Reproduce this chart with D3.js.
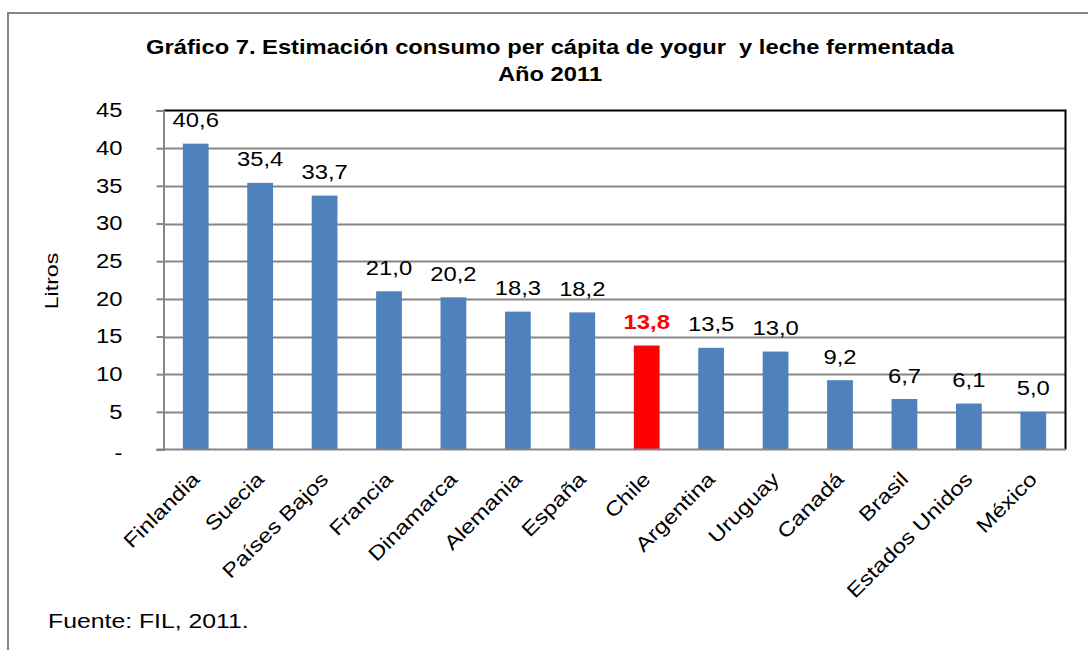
<!DOCTYPE html>
<html>
<head>
<meta charset="utf-8">
<script src="https://cdn.jsdelivr.net/npm/d3@7"></script>
<style>
  body { margin: 0; background: #fff; }
  svg { font-family: "Liberation Sans", Arial, sans-serif; }
</style>
</head>
<body>
<svg width="1088" height="650"></svg>
<script>
const countries = ["Finlandia", "Suecia", "Países Bajos", "Francia", "Dinamarca", "Alemania", "España",
  "Chile", "Argentina", "Uruguay", "Canadá", "Brasil", "Estados Unidos", "México"];
const litros = [40.6, 35.4, 33.7, 21.0, 20.2, 18.3, 18.2, 13.8, 13.5, 13.0, 9.2, 6.7, 6.1, 5.0];
const highlight = "Chile";
const yTicks = [0, 5, 10, 15, 20, 25, 30, 35, 40, 45];

// the original text is drawn wider than Liberation Sans, so stretch it
const wide = 1.19;

const svg = d3.select("svg");

// outer frame
svg.append("rect")
    .attr("x", 8).attr("y", 13)
    .attr("width", 1090).attr("height", 650)
    .attr("fill", "none")
    .attr("stroke", "#868686")
    .attr("stroke-width", 2);

const plot = { left: 163.5, right: 1065.5, top: 110.5, bottom: 449.5 };

const x = d3.scaleBand()
    .domain(countries)
    .range([plot.left, plot.right])
    .paddingInner(0.6)
    .paddingOuter(0.3);

const y = d3.scaleLinear()
    .domain([0, 45])
    .range([plot.bottom, plot.top]);

// gridlines
svg.append("g")
    .selectAll("line")
    .data(yTicks.filter(d => d > 0 && d < 45))
    .join("line")
    .attr("x1", plot.left).attr("x2", plot.right)
    .attr("y1", d => Math.round(y(d)) + 0.5).attr("y2", d => Math.round(y(d)) + 0.5)
    .attr("stroke", "#868686")
    .attr("stroke-width", 2);

// top and right border of plot area
svg.append("path")
    .attr("d", `M${plot.left},${plot.top}H${plot.right}V${plot.bottom}`)
    .attr("fill", "none")
    .attr("stroke", "#000")
    .attr("stroke-width", 2);

// bars
svg.append("g")
    .selectAll("rect")
    .data(countries)
    .join("rect")
    .attr("x", d => x(d))
    .attr("width", x.bandwidth())
    .attr("y", (d, i) => y(litros[i]))
    .attr("height", (d, i) => y(0) - y(litros[i]))
    .attr("fill", d => d === highlight ? "#FF0000" : "#4F81BD");

// value labels
svg.append("g")
    .selectAll("text")
    .data(countries)
    .join("text")
    .attr("transform", (d, i) => `translate(${x(d) + x.bandwidth() / 2},${y(litros[i]) - 16.5}) scale(${wide},1)`)
    .attr("text-anchor", "middle")
    .attr("font-size", 20)
    .attr("font-weight", d => d === highlight ? "bold" : "normal")
    .attr("fill", d => d === highlight ? "#FF0000" : "#000")
    .text((d, i) => d3.format(".1f")(litros[i]).replace(".", ","));

// y axis
const yAxis = svg.append("g")
    .attr("transform", `translate(${plot.left},0)`)
    .call(d3.axisLeft(y).tickValues(yTicks).tickSize(7)
        .tickFormat(d => d === 0 ? "-" : d));
yAxis.select(".domain").attr("stroke", "#868686").attr("stroke-width", 2);
yAxis.selectAll(".tick line").attr("stroke", "#868686").attr("stroke-width", 2);
yAxis.selectAll(".tick text")
    .attr("x", 0)
    .attr("transform", `translate(-41,0) scale(${wide},1)`)
    .attr("font-size", 20)
    .attr("font-family", "Liberation Sans, Arial, sans-serif")
    .attr("fill", "#000");
yAxis.selectAll(".tick").filter(d => d === 0).select("text").attr("dy", "0.5em");

// x axis
const xAxis = svg.append("g")
    .attr("transform", `translate(0,${plot.bottom})`)
    .call(d3.axisBottom(x).tickSize(0).tickPadding(0));
xAxis.select(".domain")
    .attr("d", `M${plot.left - 7},0H${plot.right}`)
    .attr("stroke", "#868686").attr("stroke-width", 2);
xAxis.selectAll(".tick text")
    .attr("font-size", 20)
    .attr("font-family", "Liberation Sans, Arial, sans-serif")
    .attr("fill", "#000")
    .attr("text-anchor", "end")
    .attr("y", 0)
    .attr("dy", 0)
    .attr("transform", "translate(5,31) rotate(-45) scale(1.2,1)");

// titles
svg.append("text")
    .attr("transform", "translate(550,54) scale(1.13,1)")
    .attr("text-anchor", "middle")
    .attr("font-size", 21).attr("font-weight", "bold")
    .style("white-space", "pre")
    .text("Gráfico 7. Estimación consumo per cápita de yogur  y leche fermentada");
svg.append("text")
    .attr("transform", "translate(550,81) scale(1.13,1)")
    .attr("text-anchor", "middle")
    .attr("font-size", 21).attr("font-weight", "bold")
    .text("Año 2011");

svg.append("text")
    .attr("transform", "translate(58,281) rotate(-90) scale(1.22,1)")
    .attr("text-anchor", "middle")
    .attr("font-size", 19)
    .text("Litros");

svg.append("text")
    .attr("transform", "translate(48,628) scale(1.24,1)")
    .attr("font-size", 20)
    .text("Fuente: FIL, 2011.");
</script>
</body>
</html>
